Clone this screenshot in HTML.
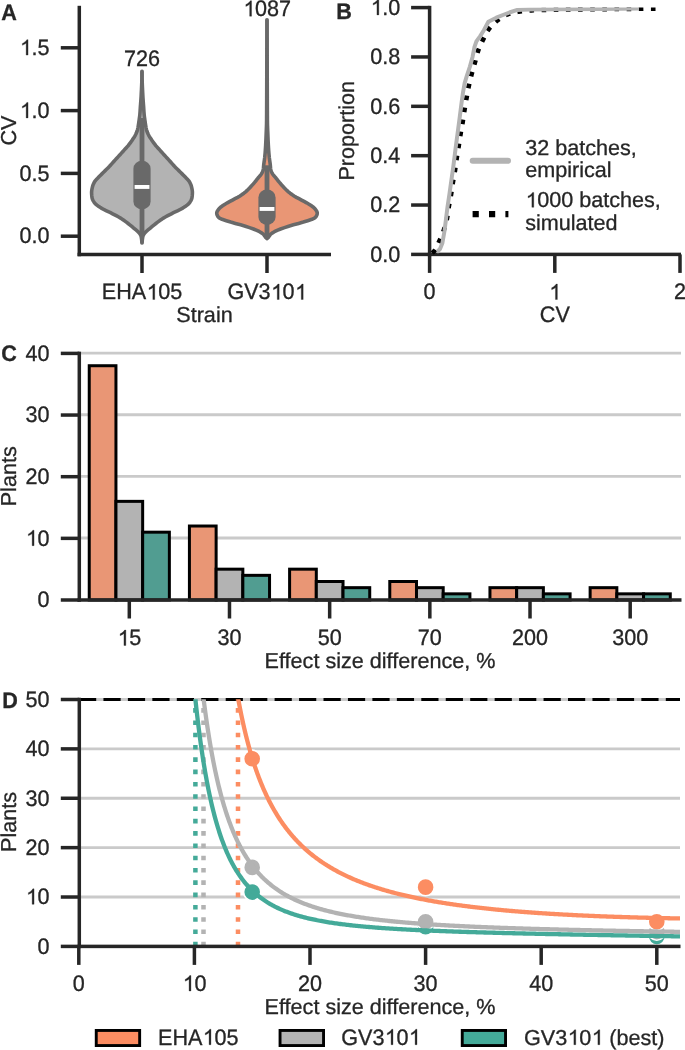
<!DOCTYPE html>
<html><head><meta charset="utf-8"><style>
html,body{margin:0;padding:0;background:#fff;}
svg{display:block;font-family:"Liberation Sans", sans-serif;will-change:transform;text-rendering:geometricPrecision;}
text{stroke:#262626;stroke-width:0.3px;}
</style></head><body>
<svg width="685" height="1050" viewBox="0 0 685 1050">
<rect width="685" height="1050" fill="#fff"/>
<rect x="77.55" y="5.8" width="3.5" height="250.45" fill="#262626"/>
<rect x="77.55" y="252.75" width="253.45" height="3.5" fill="#262626"/>
<line x1="60.8" y1="236.2" x2="79.3" y2="236.2" stroke="#262626" stroke-width="3.5" />
<g transform="matrix(1,0,0,1.04,0,-9.74)"><text x="49.5" y="243.5" text-anchor="end" font-weight="normal" font-size="21.6" fill="#262626">0.0</text></g>
<line x1="60.8" y1="173.4" x2="79.3" y2="173.4" stroke="#262626" stroke-width="3.5" />
<g transform="matrix(1,0,0,1.04,0,-7.23)"><text x="49.5" y="180.7" text-anchor="end" font-weight="normal" font-size="21.6" fill="#262626">0.5</text></g>
<line x1="60.8" y1="110.6" x2="79.3" y2="110.6" stroke="#262626" stroke-width="3.5" />
<g transform="matrix(1,0,0,1.04,0,-4.72)"><text x="49.5" y="117.9" text-anchor="end" font-weight="normal" font-size="21.6" fill="#262626"> .0</text>
<path transform="translate(19.47,117.90) scale(0.010547,-0.010547)" d="M813,0 L633,0 L633,1102 Q568,1043 465,985 Q362,927 273,895 L273,1062 Q424,1130 535,1224 Q646,1319 698,1409 L813,1409 Z" fill="#262626" stroke="#262626" stroke-width="0.3" vector-effect="non-scaling-stroke"/>
</g>
<line x1="60.8" y1="47.8" x2="79.3" y2="47.8" stroke="#262626" stroke-width="3.5" />
<g transform="matrix(1,0,0,1.04,0,-2.2)"><text x="49.5" y="55.1" text-anchor="end" font-weight="normal" font-size="21.6" fill="#262626"> .5</text>
<path transform="translate(19.47,55.10) scale(0.010547,-0.010547)" d="M813,0 L633,0 L633,1102 Q568,1043 465,985 Q362,927 273,895 L273,1062 Q424,1130 535,1224 Q646,1319 698,1409 L813,1409 Z" fill="#262626" stroke="#262626" stroke-width="0.3" vector-effect="non-scaling-stroke"/>
</g>
<line x1="142" y1="254.5" x2="142" y2="273" stroke="#262626" stroke-width="3.5" />
<g transform="matrix(1,0,0,1.04,0,-11.98)"><text x="142" y="299.5" text-anchor="middle" font-weight="normal" font-size="21.6" fill="#262626">EHA 05</text>
<path transform="translate(146.17,299.50) scale(0.010547,-0.010547)" d="M813,0 L633,0 L633,1102 Q568,1043 465,985 Q362,927 273,895 L273,1062 Q424,1130 535,1224 Q646,1319 698,1409 L813,1409 Z" fill="#262626" stroke="#262626" stroke-width="0.3" vector-effect="non-scaling-stroke"/>
</g>
<line x1="267" y1="254.5" x2="267" y2="273" stroke="#262626" stroke-width="3.5" />
<g transform="matrix(1,0,0,1.04,0,-11.98)"><text x="267" y="299.5" text-anchor="middle" font-weight="normal" font-size="21.6" fill="#262626">GV3 0 </text>
<path transform="translate(270.58,299.50) scale(0.010547,-0.010547)" d="M813,0 L633,0 L633,1102 Q568,1043 465,985 Q362,927 273,895 L273,1062 Q424,1130 535,1224 Q646,1319 698,1409 L813,1409 Z" fill="#262626" stroke="#262626" stroke-width="0.3" vector-effect="non-scaling-stroke"/>
<path transform="translate(294.59,299.50) scale(0.010547,-0.010547)" d="M813,0 L633,0 L633,1102 Q568,1043 465,985 Q362,927 273,895 L273,1062 Q424,1130 535,1224 Q646,1319 698,1409 L813,1409 Z" fill="#262626" stroke="#262626" stroke-width="0.3" vector-effect="non-scaling-stroke"/>
</g>
<text x="204.5" y="322" text-anchor="middle" font-weight="normal" font-size="21.6" fill="#262626">Strain</text>
<text x="0" y="0" transform="translate(16,130.6) rotate(-90)" text-anchor="middle" font-weight="normal" font-size="21.6" fill="#262626">CV</text>
<g transform="matrix(1,0,0,1.04,0,-0.79)"><text x="1.3" y="19.7" text-anchor="start" font-weight="bold" font-size="21.6" fill="#262626">A</text></g>
<g transform="matrix(1,0,0,1.04,0,-2.65)"><text x="142" y="66.2" text-anchor="middle" font-weight="normal" font-size="21.6" fill="#262626">726</text></g>
<g transform="matrix(1,0,0,1.04,0,-0.65)"><text x="267" y="16.2" text-anchor="middle" font-weight="normal" font-size="21.6" fill="#262626"> 087</text>
<path transform="translate(242.98,16.20) scale(0.010547,-0.010547)" d="M813,0 L633,0 L633,1102 Q568,1043 465,985 Q362,927 273,895 L273,1062 Q424,1130 535,1224 Q646,1319 698,1409 L813,1409 Z" fill="#262626" stroke="#262626" stroke-width="0.3" vector-effect="non-scaling-stroke"/>
</g>
<path d="M141.85,71.4 L141.85,72.48 L141.85,73.56 L141.85,74.64 L141.85,75.71 L141.85,76.79 L141.85,77.87 L141.84,78.95 L141.83,80.03 L141.81,81.11 L141.78,82.19 L141.75,83.26 L141.71,84.34 L141.67,85.42 L141.62,86.5 L141.57,87.58 L141.52,88.66 L141.47,89.74 L141.41,90.82 L141.36,91.89 L141.3,92.97 L141.25,94.05 L141.19,95.13 L141.14,96.21 L141.07,97.29 L141,98.37 L140.93,99.44 L140.85,100.52 L140.77,101.6 L140.69,102.68 L140.61,103.76 L140.53,104.84 L140.45,105.92 L140.37,106.99 L140.3,108.07 L140.23,109.15 L140.16,110.23 L140.1,111.31 L140.02,112.39 L139.94,113.47 L139.85,114.54 L139.74,115.62 L139.61,116.7 L139.46,117.78 L139.31,118.86 L139.16,119.94 L139,121.02 L138.84,122.09 L138.69,123.17 L138.53,124.25 L138.37,125.33 L138.19,126.41 L138,127.49 L137.78,128.57 L137.54,129.65 L137.24,130.72 L136.86,131.8 L136.41,132.88 L135.91,133.96 L135.38,135.04 L134.8,136.12 L134.14,137.2 L133.44,138.27 L132.74,139.35 L132.01,140.43 L131.26,141.51 L130.49,142.59 L129.69,143.67 L128.86,144.75 L127.99,145.82 L127.06,146.9 L126.1,147.98 L125.11,149.06 L124.12,150.14 L123.16,151.22 L122.19,152.3 L121.21,153.37 L120.24,154.45 L119.25,155.53 L118.26,156.61 L117.26,157.69 L116.26,158.77 L115.26,159.85 L114.28,160.93 L113.32,162 L112.38,163.08 L111.44,164.16 L110.48,165.24 L109.49,166.32 L108.45,167.4 L107.37,168.48 L106.27,169.55 L105.17,170.63 L104.09,171.71 L102.99,172.79 L101.89,173.87 L100.81,174.95 L99.75,176.03 L98.72,177.1 L97.64,178.18 L96.58,179.26 L95.61,180.34 L94.79,181.42 L94.18,182.5 L93.64,183.58 L93.17,184.65 L92.78,185.73 L92.47,186.81 L92.23,187.89 L92,188.97 L91.81,190.05 L91.67,191.13 L91.6,192.21 L91.61,193.28 L91.67,194.36 L91.75,195.44 L91.87,196.52 L92,197.6 L92.24,198.68 L92.67,199.76 L93.23,200.83 L93.9,201.91 L94.64,202.99 L95.63,204.07 L96.92,205.15 L98.43,206.23 L100.06,207.31 L101.76,208.38 L103.73,209.46 L105.94,210.54 L108.25,211.62 L110.51,212.7 L112.61,213.78 L114.69,214.86 L116.73,215.93 L118.7,217.01 L120.55,218.09 L122.23,219.17 L123.8,220.25 L125.28,221.33 L126.7,222.41 L128.09,223.48 L129.47,224.56 L130.8,225.64 L132.1,226.72 L133.38,227.8 L134.66,228.88 L135.99,229.96 L137.32,231.04 L138.41,232.11 L139.31,233.19 L140.13,234.27 L140.77,235.35 L141.13,236.43 L141.33,237.51 L141.51,238.59 L141.65,239.66 L141.76,240.74 L141.83,241.82 L141.85,242.9 L142.15,242.9 L142.17,241.82 L142.24,240.74 L142.35,239.66 L142.49,238.59 L142.67,237.51 L142.87,236.43 L143.23,235.35 L143.87,234.27 L144.69,233.19 L145.59,232.11 L146.68,231.04 L148.01,229.96 L149.34,228.88 L150.62,227.8 L151.9,226.72 L153.2,225.64 L154.53,224.56 L155.91,223.48 L157.3,222.41 L158.72,221.33 L160.2,220.25 L161.77,219.17 L163.45,218.09 L165.3,217.01 L167.27,215.93 L169.31,214.86 L171.39,213.78 L173.49,212.7 L175.75,211.62 L178.06,210.54 L180.27,209.46 L182.24,208.38 L183.94,207.31 L185.57,206.23 L187.08,205.15 L188.37,204.07 L189.36,202.99 L190.1,201.91 L190.77,200.83 L191.33,199.76 L191.76,198.68 L192,197.6 L192.13,196.52 L192.25,195.44 L192.33,194.36 L192.39,193.28 L192.4,192.21 L192.33,191.13 L192.19,190.05 L192,188.97 L191.77,187.89 L191.53,186.81 L191.22,185.73 L190.83,184.65 L190.36,183.58 L189.82,182.5 L189.21,181.42 L188.39,180.34 L187.42,179.26 L186.36,178.18 L185.28,177.1 L184.25,176.03 L183.19,174.95 L182.11,173.87 L181.01,172.79 L179.91,171.71 L178.83,170.63 L177.73,169.55 L176.63,168.48 L175.55,167.4 L174.51,166.32 L173.52,165.24 L172.56,164.16 L171.62,163.08 L170.68,162 L169.72,160.93 L168.74,159.85 L167.74,158.77 L166.74,157.69 L165.74,156.61 L164.75,155.53 L163.76,154.45 L162.79,153.37 L161.81,152.3 L160.84,151.22 L159.88,150.14 L158.89,149.06 L157.9,147.98 L156.94,146.9 L156.01,145.82 L155.14,144.75 L154.31,143.67 L153.51,142.59 L152.74,141.51 L151.99,140.43 L151.26,139.35 L150.56,138.27 L149.86,137.2 L149.2,136.12 L148.62,135.04 L148.09,133.96 L147.59,132.88 L147.14,131.8 L146.76,130.72 L146.46,129.65 L146.22,128.57 L146,127.49 L145.81,126.41 L145.63,125.33 L145.47,124.25 L145.31,123.17 L145.16,122.09 L145,121.02 L144.84,119.94 L144.69,118.86 L144.54,117.78 L144.39,116.7 L144.26,115.62 L144.15,114.54 L144.06,113.47 L143.98,112.39 L143.9,111.31 L143.84,110.23 L143.77,109.15 L143.7,108.07 L143.63,106.99 L143.55,105.92 L143.47,104.84 L143.39,103.76 L143.31,102.68 L143.23,101.6 L143.15,100.52 L143.07,99.44 L143,98.37 L142.93,97.29 L142.86,96.21 L142.81,95.13 L142.75,94.05 L142.7,92.97 L142.64,91.89 L142.59,90.82 L142.53,89.74 L142.48,88.66 L142.43,87.58 L142.38,86.5 L142.33,85.42 L142.29,84.34 L142.25,83.26 L142.22,82.19 L142.19,81.11 L142.17,80.03 L142.16,78.95 L142.15,77.87 L142.15,76.79 L142.15,75.71 L142.15,74.64 L142.15,73.56 L142.15,72.48 L142.15,71.4 Z" fill="#b3b3b3" stroke="#696969" stroke-width="3.6" stroke-linejoin="round"/>
<line x1="142" y1="118" x2="142" y2="236" stroke="#696969" stroke-width="4.8" />
<rect x="133.4" y="160.7" width="17.2" height="48.70000000000002" rx="8.6" ry="8" fill="#696969"/>
<rect x="134.6" y="185" width="14.8" height="3.9" fill="#ffffff"/>
<path d="M266.85,19.8 L266.85,21.18 L266.85,22.55 L266.85,23.93 L266.85,25.3 L266.85,26.68 L266.85,28.06 L266.85,29.43 L266.85,30.81 L266.85,32.18 L266.85,33.56 L266.85,34.94 L266.85,36.31 L266.84,37.69 L266.84,39.07 L266.84,40.44 L266.84,41.82 L266.84,43.19 L266.84,44.57 L266.84,45.95 L266.84,47.32 L266.83,48.7 L266.83,50.07 L266.83,51.45 L266.83,52.83 L266.83,54.2 L266.83,55.58 L266.82,56.95 L266.82,58.33 L266.82,59.71 L266.82,61.08 L266.81,62.46 L266.81,63.84 L266.81,65.21 L266.81,66.59 L266.8,67.96 L266.8,69.34 L266.8,70.72 L266.79,72.09 L266.79,73.47 L266.79,74.84 L266.78,76.22 L266.78,77.6 L266.77,78.97 L266.77,80.35 L266.77,81.72 L266.76,83.1 L266.76,84.48 L266.75,85.85 L266.75,87.23 L266.74,88.61 L266.74,89.98 L266.73,91.36 L266.73,92.73 L266.72,94.11 L266.72,95.49 L266.71,96.86 L266.71,98.24 L266.7,99.61 L266.7,100.99 L266.69,102.37 L266.68,103.74 L266.68,105.12 L266.67,106.49 L266.66,107.87 L266.66,109.25 L266.65,110.62 L266.64,112 L266.64,113.37 L266.63,114.75 L266.62,116.13 L266.61,117.5 L266.61,118.88 L266.6,120.26 L266.58,121.63 L266.56,123.01 L266.53,124.38 L266.49,125.76 L266.44,127.14 L266.39,128.51 L266.34,129.89 L266.28,131.26 L266.22,132.64 L266.17,134.02 L266.11,135.39 L266.06,136.77 L266,138.14 L265.94,139.52 L265.88,140.9 L265.81,142.27 L265.74,143.65 L265.67,145.03 L265.59,146.4 L265.5,147.78 L265.41,149.15 L265.32,150.53 L265.22,151.91 L265.11,153.28 L264.99,154.66 L264.86,156.03 L264.73,157.41 L264.55,158.79 L264.36,160.16 L264.16,161.54 L263.96,162.91 L263.78,164.29 L263.64,165.67 L263.53,167.04 L263.42,168.42 L263.23,169.79 L262.8,171.17 L262.17,172.55 L261.43,173.92 L260.45,175.3 L259.24,176.68 L258.04,178.05 L256.95,179.43 L255.87,180.8 L254.77,182.18 L253.6,183.56 L252.4,184.93 L251.15,186.31 L249.86,187.68 L248.55,189.06 L247.15,190.44 L245.6,191.81 L243.9,193.19 L242.03,194.56 L239.97,195.94 L237.59,197.32 L235.02,198.69 L232.48,200.07 L229.91,201.45 L227.35,202.82 L225.01,204.2 L222.92,205.57 L220.96,206.95 L219.4,208.33 L218.33,209.7 L217.39,211.08 L216.8,212.45 L216.75,213.83 L217.18,215.21 L217.95,216.58 L219.1,217.96 L222.06,219.33 L226.31,220.71 L230.67,222.09 L235.43,223.46 L240.58,224.84 L245.34,226.22 L249.53,227.59 L253.47,228.97 L256.85,230.34 L259.59,231.72 L261.91,233.1 L263.56,234.47 L264.59,235.85 L265.5,237.22 L266.85,238.6 L267.15,238.6 L268.5,237.22 L269.41,235.85 L270.44,234.47 L272.09,233.1 L274.41,231.72 L277.15,230.34 L280.53,228.97 L284.47,227.59 L288.66,226.22 L293.42,224.84 L298.57,223.46 L303.33,222.09 L307.69,220.71 L311.94,219.33 L314.9,217.96 L316.05,216.58 L316.82,215.21 L317.25,213.83 L317.2,212.45 L316.61,211.08 L315.67,209.7 L314.6,208.33 L313.04,206.95 L311.08,205.57 L308.99,204.2 L306.65,202.82 L304.09,201.45 L301.52,200.07 L298.98,198.69 L296.41,197.32 L294.03,195.94 L291.97,194.56 L290.1,193.19 L288.4,191.81 L286.85,190.44 L285.45,189.06 L284.14,187.68 L282.85,186.31 L281.6,184.93 L280.4,183.56 L279.23,182.18 L278.13,180.8 L277.05,179.43 L275.96,178.05 L274.76,176.68 L273.55,175.3 L272.57,173.92 L271.83,172.55 L271.2,171.17 L270.77,169.79 L270.58,168.42 L270.47,167.04 L270.36,165.67 L270.22,164.29 L270.04,162.91 L269.84,161.54 L269.64,160.16 L269.45,158.79 L269.27,157.41 L269.14,156.03 L269.01,154.66 L268.89,153.28 L268.78,151.91 L268.68,150.53 L268.59,149.15 L268.5,147.78 L268.41,146.4 L268.33,145.03 L268.26,143.65 L268.19,142.27 L268.12,140.9 L268.06,139.52 L268,138.14 L267.94,136.77 L267.89,135.39 L267.83,134.02 L267.78,132.64 L267.72,131.26 L267.66,129.89 L267.61,128.51 L267.56,127.14 L267.51,125.76 L267.47,124.38 L267.44,123.01 L267.42,121.63 L267.4,120.26 L267.39,118.88 L267.39,117.5 L267.38,116.13 L267.37,114.75 L267.36,113.37 L267.36,112 L267.35,110.62 L267.34,109.25 L267.34,107.87 L267.33,106.49 L267.32,105.12 L267.32,103.74 L267.31,102.37 L267.3,100.99 L267.3,99.61 L267.29,98.24 L267.29,96.86 L267.28,95.49 L267.28,94.11 L267.27,92.73 L267.27,91.36 L267.26,89.98 L267.26,88.61 L267.25,87.23 L267.25,85.85 L267.24,84.48 L267.24,83.1 L267.23,81.72 L267.23,80.35 L267.23,78.97 L267.22,77.6 L267.22,76.22 L267.21,74.84 L267.21,73.47 L267.21,72.09 L267.2,70.72 L267.2,69.34 L267.2,67.96 L267.19,66.59 L267.19,65.21 L267.19,63.84 L267.19,62.46 L267.18,61.08 L267.18,59.71 L267.18,58.33 L267.18,56.95 L267.17,55.58 L267.17,54.2 L267.17,52.83 L267.17,51.45 L267.17,50.07 L267.17,48.7 L267.16,47.32 L267.16,45.95 L267.16,44.57 L267.16,43.19 L267.16,41.82 L267.16,40.44 L267.16,39.07 L267.16,37.69 L267.15,36.31 L267.15,34.94 L267.15,33.56 L267.15,32.18 L267.15,30.81 L267.15,29.43 L267.15,28.06 L267.15,26.68 L267.15,25.3 L267.15,23.93 L267.15,22.55 L267.15,21.18 L267.15,19.8 Z" fill="#e99675" stroke="#696969" stroke-width="3.6" stroke-linejoin="round"/>
<line x1="267" y1="165.3" x2="267" y2="236" stroke="#696969" stroke-width="4.8" />
<rect x="258.4" y="189.4" width="17.2" height="35.5" rx="8.6" ry="8" fill="#696969"/>
<rect x="259.6" y="207" width="14.8" height="3.9" fill="#ffffff"/>
<rect x="427.85" y="5.85" width="3.5" height="250.29999999999998" fill="#262626"/>
<rect x="427.85" y="252.65" width="253.14999999999998" height="3.5" fill="#262626"/>
<line x1="411.1" y1="254.4" x2="429.6" y2="254.4" stroke="#262626" stroke-width="3.5" />
<g transform="matrix(1,0,0,1.04,0,-10.47)"><text x="400.3" y="261.7" text-anchor="end" font-weight="normal" font-size="21.6" fill="#262626">0.0</text></g>
<line x1="411.1" y1="205.04" x2="429.6" y2="205.04" stroke="#262626" stroke-width="3.5" />
<g transform="matrix(1,0,0,1.04,0,-8.49)"><text x="400.3" y="212.34" text-anchor="end" font-weight="normal" font-size="21.6" fill="#262626">0.2</text></g>
<line x1="411.1" y1="155.68" x2="429.6" y2="155.68" stroke="#262626" stroke-width="3.5" />
<g transform="matrix(1,0,0,1.04,0,-6.52)"><text x="400.3" y="162.98" text-anchor="end" font-weight="normal" font-size="21.6" fill="#262626">0.4</text></g>
<line x1="411.1" y1="106.32" x2="429.6" y2="106.32" stroke="#262626" stroke-width="3.5" />
<g transform="matrix(1,0,0,1.04,0,-4.54)"><text x="400.3" y="113.62" text-anchor="end" font-weight="normal" font-size="21.6" fill="#262626">0.6</text></g>
<line x1="411.1" y1="56.96" x2="429.6" y2="56.96" stroke="#262626" stroke-width="3.5" />
<g transform="matrix(1,0,0,1.04,0,-2.57)"><text x="400.3" y="64.26" text-anchor="end" font-weight="normal" font-size="21.6" fill="#262626">0.8</text></g>
<line x1="411.1" y1="7.6" x2="429.6" y2="7.6" stroke="#262626" stroke-width="3.5" />
<g transform="matrix(1,0,0,1.04,0,-0.6)"><text x="400.3" y="14.9" text-anchor="end" font-weight="normal" font-size="21.6" fill="#262626"> .0</text>
<path transform="translate(370.27,14.90) scale(0.010547,-0.010547)" d="M813,0 L633,0 L633,1102 Q568,1043 465,985 Q362,927 273,895 L273,1062 Q424,1130 535,1224 Q646,1319 698,1409 L813,1409 Z" fill="#262626" stroke="#262626" stroke-width="0.3" vector-effect="non-scaling-stroke"/>
</g>
<line x1="429.6" y1="254.4" x2="429.6" y2="272.9" stroke="#262626" stroke-width="3.5" />
<g transform="matrix(1,0,0,1.04,0,-11.98)"><text x="429.6" y="299.5" text-anchor="middle" font-weight="normal" font-size="21.6" fill="#262626">0</text></g>
<line x1="554.8" y1="254.4" x2="554.8" y2="272.9" stroke="#262626" stroke-width="3.5" />
<g transform="matrix(1,0,0,1.04,0,-11.98)"><text x="554.8" y="299.5" text-anchor="middle" font-weight="normal" font-size="21.6" fill="#262626"> </text>
<path transform="translate(548.79,299.50) scale(0.010547,-0.010547)" d="M813,0 L633,0 L633,1102 Q568,1043 465,985 Q362,927 273,895 L273,1062 Q424,1130 535,1224 Q646,1319 698,1409 L813,1409 Z" fill="#262626" stroke="#262626" stroke-width="0.3" vector-effect="non-scaling-stroke"/>
</g>
<line x1="680" y1="254.4" x2="680" y2="272.9" stroke="#262626" stroke-width="3.5" />
<g transform="matrix(1,0,0,1.04,0,-11.98)"><text x="680" y="299.5" text-anchor="middle" font-weight="normal" font-size="21.6" fill="#262626">2</text></g>
<g transform="matrix(1,0,0,1.04,0,-12.86)"><text x="554.8" y="321.5" text-anchor="middle" font-weight="normal" font-size="21.6" fill="#262626">CV</text></g>
<text x="0" y="0" transform="translate(353.9,130.8) rotate(-90)" text-anchor="middle" font-weight="normal" font-size="21.6" fill="#262626">Proportion</text>
<g transform="matrix(1,0,0,1.04,0,-0.77)"><text x="336.2" y="19.2" text-anchor="start" font-weight="bold" font-size="21.6" fill="#262626">B</text></g>
<defs><clipPath id="clipB"><rect x="429.4" y="7.6" width="252" height="246.8"/></clipPath></defs>
<path d="M429.4,254.4 L429.97,254.32 L430.54,254.14 L431.1,253.85 L431.67,253.48 L432.24,253.04 L432.81,252.55 L433.38,252.01 L433.94,251.46 L434.51,250.87 L435.08,250.12 L435.65,249.19 L436.22,248.11 L436.78,246.93 L437.35,245.66 L437.92,244.35 L438.49,243.04 L439.05,241.74 L439.62,240.49 L440.19,239.24 L440.76,237.96 L441.33,236.64 L441.89,235.27 L442.46,233.84 L443.03,232.32 L443.6,230.72 L444.17,229.06 L444.73,227.34 L445.3,225.49 L445.87,223.47 L446.44,221.22 L447.01,218.67 L447.57,215.29 L448.14,211.19 L448.71,207.25 L449.28,204.03 L449.85,201.12 L450.41,198.24 L450.98,195.11 L451.55,191.5 L452.12,187.59 L452.68,183.76 L453.25,180.33 L453.82,177.21 L454.39,174.12 L454.96,170.78 L455.52,166.88 L456.09,162.63 L456.66,158.56 L457.23,154.98 L457.8,151.61 L458.36,148.26 L458.93,144.72 L459.5,140.96 L460.07,137.18 L460.64,133.58 L461.2,130.31 L461.77,127.19 L462.34,124.02 L462.91,120.61 L463.48,116.9 L464.04,113.09 L464.61,109.43 L465.18,105.99 L465.75,102.65 L466.31,99.4 L466.88,96.22 L467.45,93.07 L468.02,90.01 L468.59,87.11 L469.15,84.43 L469.72,81.92 L470.29,79.54 L470.86,77.26 L471.43,75.05 L471.99,72.89 L472.56,70.83 L473.13,68.83 L473.7,66.87 L474.27,64.92 L474.83,62.95 L475.4,60.9 L475.97,58.73 L476.54,56.52 L477.11,54.36 L477.67,52.34 L478.24,50.57 L478.81,49.02 L479.38,47.59 L479.94,46.26 L480.51,45 L481.08,43.79 L481.65,42.63 L482.22,41.49 L482.78,40.34 L483.35,39.19 L483.92,38.01 L484.49,36.82 L485.06,35.64 L485.62,34.48 L486.19,33.37 L486.76,32.31 L487.33,31.33 L487.9,30.44 L488.46,29.64 L489.03,28.88 L489.6,28.15 L490.17,27.45 L490.74,26.77 L491.3,26.12 L491.87,25.49 L492.44,24.89 L493.01,24.3 L493.57,23.74 L494.14,23.2 L494.71,22.68 L495.28,22.18 L495.85,21.69 L496.41,21.22 L496.98,20.77 L497.55,20.34 L498.12,19.91 L498.69,19.49 L499.25,19.08 L499.82,18.68 L500.39,18.28 L500.96,17.89 L501.53,17.51 L502.09,17.15 L502.66,16.79 L503.23,16.45 L503.8,16.12 L504.37,15.8 L504.93,15.51 L505.5,15.22 L506.07,14.96 L506.64,14.71 L507.21,14.48 L507.77,14.28 L508.34,14.09 L508.91,13.91 L509.48,13.73 L510.04,13.56 L510.61,13.4 L511.18,13.24 L511.75,13.09 L512.32,12.95 L512.88,12.81 L513.45,12.68 L514.02,12.55 L514.59,12.43 L515.16,12.31 L515.72,12.2 L516.29,12.09 L516.86,11.99 L517.43,11.89 L518,11.8 L518.56,11.71 L519.13,11.62 L519.7,11.54 L520.27,11.46 L520.84,11.39 L521.4,11.31 L521.97,11.24 L522.54,11.17 L523.11,11.1 L523.67,11.03 L524.24,10.96 L524.81,10.9 L525.38,10.84 L525.95,10.78 L526.51,10.73 L527.08,10.67 L527.65,10.62 L528.22,10.58 L528.79,10.54 L529.35,10.5 L529.92,10.46 L530.49,10.43 L531.06,10.4 L531.63,10.37 L532.19,10.34 L532.76,10.32 L533.33,10.3 L533.9,10.27 L534.47,10.25 L535.03,10.23 L535.6,10.21 L536.17,10.2 L536.74,10.18 L537.3,10.16 L537.87,10.15 L538.44,10.13 L539.01,10.11 L539.58,10.1 L540.14,10.08 L540.71,10.07 L541.28,10.06 L541.85,10.04 L542.42,10.03 L542.98,10.02 L543.55,10 L544.12,9.99 L544.69,9.97 L545.26,9.96 L545.82,9.95 L546.39,9.93 L546.96,9.92 L547.53,9.91 L548.1,9.89 L548.66,9.88 L549.23,9.87 L549.8,9.86 L550.37,9.84 L550.93,9.83 L551.5,9.82 L552.07,9.81 L552.64,9.8 L553.21,9.78 L553.77,9.77 L554.34,9.76 L554.91,9.75 L555.48,9.74 L556.05,9.73 L556.61,9.72 L557.18,9.71 L557.75,9.69 L558.32,9.68 L558.89,9.67 L559.45,9.66 L560.02,9.65 L560.59,9.64 L561.16,9.63 L561.73,9.62 L562.29,9.61 L562.86,9.61 L563.43,9.6 L564,9.59 L564.56,9.58 L565.13,9.57 L565.7,9.56 L566.27,9.55 L566.84,9.54 L567.4,9.54 L567.97,9.53 L568.54,9.52 L569.11,9.51 L569.68,9.5 L570.24,9.5 L570.81,9.49 L571.38,9.48 L571.95,9.48 L572.52,9.47 L573.08,9.46 L573.65,9.45 L574.22,9.45 L574.79,9.44 L575.36,9.43 L575.92,9.43 L576.49,9.42 L577.06,9.42 L577.63,9.41 L578.19,9.4 L578.76,9.4 L579.33,9.39 L579.9,9.39 L580.47,9.38 L581.03,9.38 L581.6,9.37 L582.17,9.36 L582.74,9.36 L583.31,9.35 L583.87,9.35 L584.44,9.34 L585.01,9.34 L585.58,9.33 L586.15,9.33 L586.71,9.32 L587.28,9.32 L587.85,9.31 L588.42,9.31 L588.99,9.3 L589.55,9.3 L590.12,9.29 L590.69,9.29 L591.26,9.28 L591.83,9.28 L592.39,9.27 L592.96,9.27 L593.53,9.26 L594.1,9.26 L594.66,9.25 L595.23,9.25 L595.8,9.24 L596.37,9.23 L596.94,9.23 L597.5,9.22 L598.07,9.22 L598.64,9.21 L599.21,9.21 L599.78,9.2 L600.34,9.2 L600.91,9.19 L601.48,9.19 L602.05,9.18 L602.62,9.17 L603.18,9.17 L603.75,9.16 L604.32,9.16 L604.89,9.15 L605.46,9.15 L606.02,9.14 L606.59,9.13 L607.16,9.13 L607.73,9.12 L608.29,9.12 L608.86,9.11 L609.43,9.11 L610,9.1 L610.57,9.09 L611.13,9.09 L611.7,9.08 L612.27,9.08 L612.84,9.07 L613.41,9.06 L613.97,9.06 L614.54,9.05 L615.11,9.05 L615.68,9.04 L616.25,9.04 L616.81,9.03 L617.38,9.02 L617.95,9.02 L618.52,9.01 L619.09,9.01 L619.65,9 L620.22,8.99 L620.79,8.99 L621.36,8.98 L621.92,8.98 L622.49,8.97 L623.06,8.97 L623.63,8.96 L624.2,8.96 L624.76,8.95 L625.33,8.94 L625.9,8.94 L626.47,8.93 L627.04,8.93 L627.6,8.92 L628.17,8.92 L628.74,8.91 L629.31,8.91 L629.88,8.9 L630.44,8.9 L631.01,8.89 L631.58,8.88 L632.15,8.88 L632.72,8.87 L633.28,8.87 L633.85,8.86 L634.42,8.86 L634.99,8.85 L635.55,8.85 L636.12,8.84 L636.69,8.84 L637.26,8.83 L637.83,8.83 L638.39,8.83 L638.96,8.82 L639.53,8.82 L640.1,8.81 L640.67,8.81 L641.23,8.8 L641.8,8.8 L642.37,8.79 L642.94,8.79 L643.51,8.78 L644.07,8.78 L644.64,8.78 L645.21,8.77 L645.78,8.77 L646.35,8.76 L646.91,8.76 L647.48,8.76 L648.05,8.75 L648.62,8.75 L649.18,8.74 L649.75,8.74 L650.32,8.74 L650.89,8.73 L651.46,8.73 L652.02,8.73 L652.59,8.72 L653.16,8.72 L653.73,8.71 L654.3,8.71 L654.86,8.71 L655.43,8.7 L656,8.7" fill="none" stroke="#000" stroke-width="4.6" stroke-dasharray="4.6 7.55" stroke-dashoffset="-3.1" clip-path="url(#clipB)"/>
<path d="M436.8,251.8 L437.6,251.4 L440,249 L442.4,243 L444.5,231 L446,219 L447.5,207 L449.3,195 L450.6,185.7 L453.3,166.7 L455.7,147.6 L457.6,133.3 L459.5,119 L461.6,102.4 L463,92.5 L464.6,83.3 L466.9,75.7 L469.9,66.6 L472.6,56.7 L474.5,46.8 L476.4,41.4 L480.2,36.1 L484,30 L488.4,21.7 L496.3,17.7 L504.2,14.5 L509.4,12.5 L517.3,9.9 L529.1,9.5 L560,9.2 L600,8.9 L639,8.6" fill="none" stroke="#b3b3b3" stroke-width="4" stroke-linejoin="round" stroke-linecap="butt" clip-path="url(#clipB)"/>
<line x1="472.7" y1="160.7" x2="508" y2="160.7" stroke="#b3b3b3" stroke-width="6" stroke-linecap="round"/>
<line x1="472.6" y1="214.1" x2="508.4" y2="214.1" stroke="#000" stroke-width="6.2" stroke-dasharray="6.2 10.2"/>
<text x="525.2" y="154.5" text-anchor="start" font-weight="normal" font-size="21.6" fill="#262626">32 batches,</text>
<text x="525.2" y="177" text-anchor="start" font-weight="normal" font-size="21.6" fill="#262626">empirical</text>
<text x="525.2" y="207.3" text-anchor="start" font-weight="normal" font-size="21.6" fill="#262626"> 000 batches,</text>
<path transform="translate(525.20,207.30) scale(0.010547,-0.010547)" d="M813,0 L633,0 L633,1102 Q568,1043 465,985 Q362,927 273,895 L273,1062 Q424,1130 535,1224 Q646,1319 698,1409 L813,1409 Z" fill="#262626" stroke="#262626" stroke-width="0.3" vector-effect="non-scaling-stroke"/>
<text x="525.2" y="230.1" text-anchor="start" font-weight="normal" font-size="21.6" fill="#262626">simulated</text>
<line x1="81.05" y1="538.05" x2="681" y2="538.05" stroke="#cacaca" stroke-width="2.9" />
<line x1="81.05" y1="476.4" x2="681" y2="476.4" stroke="#cacaca" stroke-width="2.9" />
<line x1="81.05" y1="414.75" x2="681" y2="414.75" stroke="#cacaca" stroke-width="2.9" />
<line x1="81.05" y1="353.1" x2="681" y2="353.1" stroke="#cacaca" stroke-width="2.9" />
<rect x="89.24" y="365.73" width="26.71" height="234.27" fill="#e99675" stroke="#000" stroke-width="3"/>
<rect x="115.95" y="501.36" width="26.71" height="98.64" fill="#b3b3b3" stroke="#000" stroke-width="3"/>
<rect x="142.66" y="532.18" width="26.71" height="67.81" fill="#519d91" stroke="#000" stroke-width="3"/>
<rect x="189.42" y="526.02" width="26.71" height="73.98" fill="#e99675" stroke="#000" stroke-width="3"/>
<rect x="216.13" y="569.17" width="26.71" height="30.82" fill="#b3b3b3" stroke="#000" stroke-width="3"/>
<rect x="242.84" y="575.34" width="26.71" height="24.66" fill="#519d91" stroke="#000" stroke-width="3"/>
<rect x="289.6" y="569.17" width="26.71" height="30.82" fill="#e99675" stroke="#000" stroke-width="3"/>
<rect x="316.31" y="581.5" width="26.71" height="18.5" fill="#b3b3b3" stroke="#000" stroke-width="3"/>
<rect x="343.02" y="587.67" width="26.71" height="12.33" fill="#519d91" stroke="#000" stroke-width="3"/>
<rect x="389.78" y="581.5" width="26.71" height="18.5" fill="#e99675" stroke="#000" stroke-width="3"/>
<rect x="416.49" y="587.67" width="26.71" height="12.33" fill="#b3b3b3" stroke="#000" stroke-width="3"/>
<rect x="443.2" y="593.84" width="26.71" height="6.17" fill="#519d91" stroke="#000" stroke-width="3"/>
<rect x="489.95" y="587.67" width="26.71" height="12.33" fill="#e99675" stroke="#000" stroke-width="3"/>
<rect x="516.66" y="587.67" width="26.71" height="12.33" fill="#b3b3b3" stroke="#000" stroke-width="3"/>
<rect x="543.38" y="593.84" width="26.71" height="6.17" fill="#519d91" stroke="#000" stroke-width="3"/>
<rect x="590.13" y="587.67" width="26.71" height="12.33" fill="#e99675" stroke="#000" stroke-width="3"/>
<rect x="616.85" y="593.84" width="26.71" height="6.17" fill="#b3b3b3" stroke="#000" stroke-width="3"/>
<rect x="643.56" y="593.84" width="26.71" height="6.17" fill="#519d91" stroke="#000" stroke-width="3"/>
<rect x="77.55" y="351.65" width="3.5" height="250.1" fill="#262626"/>
<rect x="77.55" y="598.25" width="603.95" height="3.5" fill="#262626"/>
<line x1="60.8" y1="600" x2="79.3" y2="600" stroke="#262626" stroke-width="3.5" />
<g transform="matrix(1,0,0,1.04,0,-24.29)"><text x="49.5" y="607.3" text-anchor="end" font-weight="normal" font-size="21.6" fill="#262626">0</text></g>
<line x1="60.8" y1="538.35" x2="79.3" y2="538.35" stroke="#262626" stroke-width="3.5" />
<g transform="matrix(1,0,0,1.04,0,-21.83)"><text x="49.5" y="545.65" text-anchor="end" font-weight="normal" font-size="21.6" fill="#262626"> 0</text>
<path transform="translate(25.47,545.65) scale(0.010547,-0.010547)" d="M813,0 L633,0 L633,1102 Q568,1043 465,985 Q362,927 273,895 L273,1062 Q424,1130 535,1224 Q646,1319 698,1409 L813,1409 Z" fill="#262626" stroke="#262626" stroke-width="0.3" vector-effect="non-scaling-stroke"/>
</g>
<line x1="60.8" y1="476.7" x2="79.3" y2="476.7" stroke="#262626" stroke-width="3.5" />
<g transform="matrix(1,0,0,1.04,0,-19.36)"><text x="49.5" y="484" text-anchor="end" font-weight="normal" font-size="21.6" fill="#262626">20</text></g>
<line x1="60.8" y1="415.05" x2="79.3" y2="415.05" stroke="#262626" stroke-width="3.5" />
<g transform="matrix(1,0,0,1.04,0,-16.89)"><text x="49.5" y="422.35" text-anchor="end" font-weight="normal" font-size="21.6" fill="#262626">30</text></g>
<line x1="60.8" y1="353.4" x2="79.3" y2="353.4" stroke="#262626" stroke-width="3.5" />
<g transform="matrix(1,0,0,1.04,0,-14.43)"><text x="49.5" y="360.7" text-anchor="end" font-weight="normal" font-size="21.6" fill="#262626">40</text></g>
<line x1="129.3" y1="600" x2="129.3" y2="618.5" stroke="#262626" stroke-width="3.5" />
<g transform="matrix(1,0,0,1.04,0,-25.82)"><text x="129.3" y="645.5" text-anchor="middle" font-weight="normal" font-size="21.6" fill="#262626"> 5</text>
<path transform="translate(117.28,645.50) scale(0.010547,-0.010547)" d="M813,0 L633,0 L633,1102 Q568,1043 465,985 Q362,927 273,895 L273,1062 Q424,1130 535,1224 Q646,1319 698,1409 L813,1409 Z" fill="#262626" stroke="#262626" stroke-width="0.3" vector-effect="non-scaling-stroke"/>
</g>
<line x1="229.48" y1="600" x2="229.48" y2="618.5" stroke="#262626" stroke-width="3.5" />
<g transform="matrix(1,0,0,1.04,0,-25.82)"><text x="229.48" y="645.5" text-anchor="middle" font-weight="normal" font-size="21.6" fill="#262626">30</text></g>
<line x1="329.66" y1="600" x2="329.66" y2="618.5" stroke="#262626" stroke-width="3.5" />
<g transform="matrix(1,0,0,1.04,0,-25.82)"><text x="329.66" y="645.5" text-anchor="middle" font-weight="normal" font-size="21.6" fill="#262626">50</text></g>
<line x1="429.84" y1="600" x2="429.84" y2="618.5" stroke="#262626" stroke-width="3.5" />
<g transform="matrix(1,0,0,1.04,0,-25.82)"><text x="429.84" y="645.5" text-anchor="middle" font-weight="normal" font-size="21.6" fill="#262626">70</text></g>
<line x1="530.02" y1="600" x2="530.02" y2="618.5" stroke="#262626" stroke-width="3.5" />
<g transform="matrix(1,0,0,1.04,0,-25.82)"><text x="530.02" y="645.5" text-anchor="middle" font-weight="normal" font-size="21.6" fill="#262626">200</text></g>
<line x1="630.2" y1="600" x2="630.2" y2="618.5" stroke="#262626" stroke-width="3.5" />
<g transform="matrix(1,0,0,1.04,0,-25.82)"><text x="630.2" y="645.5" text-anchor="middle" font-weight="normal" font-size="21.6" fill="#262626">300</text></g>
<text x="380" y="667.8" text-anchor="middle" font-weight="normal" font-size="21.6" fill="#262626">Effect size difference, %</text>
<text x="0" y="0" transform="translate(16,476.3) rotate(-90)" text-anchor="middle" font-weight="normal" font-size="21.6" fill="#262626">Plants</text>
<g transform="matrix(1,0,0,1.04,0,-14.44)"><text x="1.2" y="361" text-anchor="start" font-weight="bold" font-size="21.6" fill="#262626">C</text></g>
<line x1="81.05" y1="897.02" x2="680" y2="897.02" stroke="#cacaca" stroke-width="2.9" />
<line x1="81.05" y1="847.64" x2="680" y2="847.64" stroke="#cacaca" stroke-width="2.9" />
<line x1="81.05" y1="798.26" x2="680" y2="798.26" stroke="#cacaca" stroke-width="2.9" />
<line x1="81.05" y1="748.88" x2="680" y2="748.88" stroke="#cacaca" stroke-width="2.9" />
<line x1="81.05" y1="699.5" x2="680" y2="699.5" stroke="#cacaca" stroke-width="2.9" />
<line x1="79" y1="699.5" x2="680" y2="699.5" stroke="#000" stroke-width="3" stroke-dasharray="17.2 7.25"/>
<line x1="195.4" y1="946.4" x2="195.4" y2="699.5" stroke="#44aa99" stroke-width="4.5" stroke-dasharray="4.6 7.7"/>
<line x1="203.5" y1="946.4" x2="203.5" y2="699.5" stroke="#b3b3b3" stroke-width="4.5" stroke-dasharray="4.6 7.7"/>
<line x1="238" y1="946.4" x2="238" y2="699.5" stroke="#fc8d62" stroke-width="4.5" stroke-dasharray="4.6 7.7"/>
<defs><clipPath id="clipD"><rect x="79.3" y="699.5" width="600.7" height="246.9"/></clipPath></defs>
<circle cx="252.2" cy="892.08" r="8.6" fill="#44aa99" stroke="#fff" stroke-width="1.6"/>
<circle cx="425.6" cy="926.65" r="8.6" fill="#44aa99" stroke="#fff" stroke-width="1.6"/>
<circle cx="656.8" cy="936.52" r="8.6" fill="#44aa99" stroke="#fff" stroke-width="1.6"/>
<circle cx="252.2" cy="867.39" r="8.6" fill="#b3b3b3" stroke="#fff" stroke-width="1.6"/>
<circle cx="425.6" cy="921.71" r="8.6" fill="#b3b3b3" stroke="#fff" stroke-width="1.6"/>
<circle cx="656.8" cy="931.59" r="8.6" fill="#b3b3b3" stroke="#fff" stroke-width="1.6"/>
<circle cx="252.2" cy="758.76" r="8.6" fill="#fc8d62" stroke="#fff" stroke-width="1.6"/>
<circle cx="425.6" cy="887.14" r="8.6" fill="#fc8d62" stroke="#fff" stroke-width="1.6"/>
<circle cx="656.8" cy="921.71" r="8.6" fill="#fc8d62" stroke="#fff" stroke-width="1.6"/>
<path d="M194.85,694.1 L194.98,695.4 L195.12,696.71 L195.25,698.01 L195.39,699.31 L195.53,700.62 L195.67,701.92 L195.81,703.22 L195.95,704.53 L196.09,705.83 L196.24,707.13 L196.38,708.44 L196.53,709.74 L196.67,711.04 L196.82,712.34 L196.97,713.65 L197.12,714.95 L197.27,716.25 L197.42,717.55 L197.58,718.85 L197.73,720.15 L197.89,721.46 L198.05,722.76 L198.2,724.06 L198.36,725.36 L198.53,726.66 L198.69,727.96 L198.85,729.26 L199.02,730.56 L199.19,731.86 L199.35,733.16 L199.52,734.46 L199.7,735.76 L199.87,737.06 L200.04,738.36 L200.22,739.66 L200.4,740.96 L200.57,742.25 L200.75,743.55 L200.94,744.85 L201.12,746.15 L201.31,747.45 L201.49,748.74 L201.68,750.04 L201.87,751.34 L202.07,752.63 L202.26,753.93 L202.46,755.23 L202.65,756.52 L202.85,757.82 L203.05,759.11 L203.26,760.41 L203.46,761.7 L203.67,763 L203.88,764.29 L204.09,765.58 L204.31,766.88 L204.52,768.17 L204.74,769.46 L204.96,770.75 L205.19,772.04 L205.41,773.34 L205.64,774.63 L205.87,775.92 L206.1,777.21 L206.34,778.5 L206.58,779.79 L206.82,781.07 L207.06,782.36 L207.3,783.65 L207.55,784.94 L207.8,786.22 L208.06,787.51 L208.31,788.79 L208.57,790.08 L208.84,791.36 L209.1,792.65 L209.37,793.93 L209.64,795.21 L209.92,796.49 L210.2,797.77 L210.48,799.05 L210.77,800.33 L211.06,801.61 L211.35,802.89 L211.64,804.17 L211.94,805.44 L212.25,806.72 L212.56,807.99 L212.87,809.26 L213.18,810.54 L213.5,811.81 L213.83,813.08 L214.16,814.35 L214.49,815.61 L214.83,816.88 L215.17,818.15 L215.52,819.41 L215.87,820.67 L216.23,821.93 L216.59,823.19 L216.95,824.45 L217.33,825.71 L217.7,826.96 L218.09,828.22 L218.48,829.47 L218.87,830.72 L219.27,831.97 L219.68,833.21 L220.09,834.46 L220.51,835.7 L220.94,836.94 L221.37,838.18 L221.81,839.41 L222.25,840.64 L222.71,841.87 L223.17,843.1 L223.63,844.33 L224.11,845.55 L224.59,846.77 L225.08,847.98 L225.58,849.19 L226.09,850.4 L226.6,851.61 L227.13,852.81 L227.66,854 L228.2,855.2 L228.76,856.39 L229.32,857.57 L229.89,858.75 L230.47,859.93 L231.06,861.1 L231.66,862.26 L232.27,863.42 L232.89,864.57 L233.53,865.72 L234.17,866.86 L234.83,868 L235.5,869.13 L236.17,870.25 L236.87,871.36 L237.57,872.47 L238.28,873.57 L239.01,874.66 L239.75,875.74 L240.5,876.81 L241.27,877.87 L242.05,878.93 L242.84,879.97 L243.65,881.01 L244.47,882.03 L245.3,883.04 L246.14,884.04 L247,885.03 L247.87,886.01 L248.76,886.98 L249.66,887.93 L250.57,888.87 L251.5,889.8 L252.44,890.72 L253.39,891.62 L254.35,892.5 L255.33,893.38 L256.32,894.24 L257.32,895.08 L258.34,895.91 L259.37,896.72 L260.4,897.52 L261.45,898.31 L262.52,899.08 L263.59,899.83 L264.67,900.57 L265.76,901.29 L266.86,902 L267.98,902.7 L269.1,903.38 L270.23,904.04 L271.37,904.69 L272.52,905.32 L273.67,905.94 L274.83,906.55 L276,907.14 L277.18,907.71 L278.36,908.28 L279.55,908.83 L280.75,909.36 L281.95,909.88 L283.16,910.39 L284.37,910.89 L285.59,911.38 L286.81,911.85 L288.04,912.31 L289.27,912.76 L290.51,913.2 L291.75,913.62 L292.99,914.04 L294.23,914.45 L295.48,914.84 L296.74,915.23 L297.99,915.6 L299.25,915.97 L300.51,916.33 L301.78,916.67 L303.04,917.01 L304.31,917.34 L305.58,917.67 L306.85,917.98 L308.13,918.29 L309.4,918.59 L310.68,918.88 L311.96,919.17 L313.24,919.45 L314.52,919.72 L315.81,919.98 L317.09,920.24 L318.38,920.49 L319.67,920.74 L320.95,920.98 L322.24,921.22 L323.53,921.45 L324.83,921.67 L326.12,921.89 L327.41,922.1 L328.7,922.31 L330,922.52 L331.29,922.72 L332.59,922.91 L333.89,923.1 L335.18,923.29 L336.48,923.48 L337.78,923.65 L339.08,923.83 L340.38,924 L341.68,924.17 L342.98,924.33 L344.28,924.49 L345.58,924.65 L346.88,924.81 L348.19,924.96 L349.49,925.11 L350.79,925.25 L352.09,925.39 L353.4,925.53 L354.7,925.67 L356,925.8 L357.31,925.94 L358.61,926.06 L359.92,926.19 L361.22,926.32 L362.53,926.44 L363.83,926.56 L365.14,926.67 L366.44,926.79 L367.75,926.9 L369.06,927.01 L370.36,927.12 L371.67,927.23 L372.97,927.33 L374.28,927.44 L375.59,927.54 L376.89,927.64 L378.2,927.74 L379.51,927.83 L380.82,927.93 L382.12,928.02 L383.43,928.11 L384.74,928.21 L386.05,928.29 L387.35,928.38 L388.66,928.47 L389.97,928.55 L391.28,928.64 L392.59,928.72 L393.89,928.8 L395.2,928.88 L396.51,928.96 L397.82,929.03 L399.13,929.11 L400.44,929.19 L401.75,929.26 L403.05,929.33 L404.36,929.4 L405.67,929.47 L406.98,929.54 L408.29,929.61 L409.6,929.68 L410.91,929.75 L412.22,929.81 L413.53,929.88 L414.83,929.94 L416.14,930.01 L417.45,930.07 L418.76,930.13 L420.07,930.19 L421.38,930.25 L422.69,930.31 L424,930.37 L425.31,930.43 L426.62,930.49 L427.93,930.54 L429.24,930.6 L430.55,930.65 L431.86,930.71 L433.17,930.76 L434.48,930.82 L435.79,930.87 L437.1,930.92 L438.41,930.97 L439.72,931.02 L441.03,931.07 L442.33,931.12 L443.64,931.17 L444.95,931.22 L446.26,931.27 L447.57,931.32 L448.88,931.37 L450.19,931.41 L451.5,931.46 L452.81,931.5 L454.12,931.55 L455.43,931.59 L456.74,931.64 L458.05,931.68 L459.36,931.73 L460.67,931.77 L461.98,931.81 L463.29,931.86 L464.6,931.9 L465.91,931.94 L467.22,931.98 L468.53,932.02 L469.84,932.06 L471.15,932.1 L472.46,932.14 L473.77,932.18 L475.08,932.22 L476.39,932.26 L477.7,932.3 L479.02,932.34 L480.33,932.38 L481.64,932.41 L482.95,932.45 L484.26,932.49 L485.57,932.52 L486.88,932.56 L488.19,932.6 L489.5,932.63 L490.81,932.67 L492.12,932.7 L493.43,932.74 L494.74,932.77 L496.05,932.81 L497.36,932.84 L498.67,932.88 L499.98,932.91 L501.29,932.94 L502.6,932.98 L503.91,933.01 L505.22,933.04 L506.53,933.08 L507.84,933.11 L509.15,933.14 L510.46,933.17 L511.77,933.21 L513.08,933.24 L514.39,933.27 L515.7,933.3 L517.01,933.33 L518.32,933.36 L519.63,933.39 L520.94,933.42 L522.25,933.46 L523.57,933.49 L524.88,933.52 L526.19,933.55 L527.5,933.58 L528.81,933.6 L530.12,933.63 L531.43,933.66 L532.74,933.69 L534.05,933.72 L535.36,933.75 L536.67,933.78 L537.98,933.81 L539.29,933.84 L540.6,933.86 L541.91,933.89 L543.22,933.92 L544.53,933.95 L545.84,933.98 L547.15,934 L548.46,934.03 L549.77,934.06 L551.08,934.09 L552.39,934.11 L553.7,934.14 L555.02,934.17 L556.33,934.19 L557.64,934.22 L558.95,934.25 L560.26,934.27 L561.57,934.3 L562.88,934.33 L564.19,934.35 L565.5,934.38 L566.81,934.4 L568.12,934.43 L569.43,934.46 L570.74,934.48 L572.05,934.51 L573.36,934.53 L574.67,934.56 L575.98,934.58 L577.29,934.61 L578.6,934.63 L579.91,934.66 L581.22,934.68 L582.54,934.71 L583.85,934.73 L585.16,934.76 L586.47,934.78 L587.78,934.8 L589.09,934.83 L590.4,934.85 L591.71,934.88 L593.02,934.9 L594.33,934.93 L595.64,934.95 L596.95,934.97 L598.26,935 L599.57,935.02 L600.88,935.04 L602.19,935.07 L603.5,935.09 L604.81,935.12 L606.12,935.14 L607.44,935.16 L608.75,935.19 L610.06,935.21 L611.37,935.23 L612.68,935.25 L613.99,935.28 L615.3,935.3 L616.61,935.32 L617.92,935.35 L619.23,935.37 L620.54,935.39 L621.85,935.41 L623.16,935.44 L624.47,935.46 L625.78,935.48 L627.09,935.5 L628.4,935.53 L629.71,935.55 L631.02,935.57 L632.34,935.59 L633.65,935.62 L634.96,935.64 L636.27,935.66 L637.58,935.68 L638.89,935.7 L640.2,935.73 L641.51,935.75 L642.82,935.77 L644.13,935.79 L645.44,935.81 L646.75,935.84 L648.06,935.86 L649.37,935.88 L650.68,935.9 L651.99,935.92 L653.3,935.94 L654.61,935.96 L655.93,935.99 L657.24,936.01 L658.55,936.03 L659.86,936.05 L661.17,936.07 L662.48,936.09 L663.79,936.11 L665.1,936.14 L666.41,936.16 L667.72,936.18 L669.03,936.2 L670.34,936.22 L671.65,936.24 L672.96,936.26 L674.27,936.28 L675.58,936.3 L676.89,936.32 L678.2,936.34 L679.52,936.37 L680.83,936.39 L682.14,936.41 L683.45,936.43 L684.76,936.45 L686.07,936.47 L687.38,936.49 L688.69,936.51 L690,936.53" fill="none" stroke="#44aa99" stroke-width="4.3" clip-path="url(#clipD)"/>
<path d="M203,694.11 L203.16,695.37 L203.31,696.63 L203.47,697.89 L203.62,699.15 L203.78,700.41 L203.94,701.67 L204.1,702.93 L204.26,704.19 L204.43,705.45 L204.59,706.71 L204.76,707.97 L204.92,709.22 L205.09,710.48 L205.26,711.74 L205.43,713 L205.61,714.26 L205.78,715.51 L205.96,716.77 L206.13,718.03 L206.31,719.29 L206.49,720.54 L206.67,721.8 L206.86,723.06 L207.04,724.31 L207.23,725.57 L207.41,726.82 L207.6,728.08 L207.79,729.34 L207.99,730.59 L208.18,731.85 L208.38,733.1 L208.57,734.35 L208.77,735.61 L208.97,736.86 L209.18,738.12 L209.38,739.37 L209.59,740.62 L209.8,741.87 L210.01,743.13 L210.22,744.38 L210.43,745.63 L210.65,746.88 L210.87,748.13 L211.09,749.38 L211.31,750.63 L211.54,751.88 L211.76,753.13 L211.99,754.38 L212.22,755.63 L212.46,756.88 L212.69,758.12 L212.93,759.37 L213.17,760.62 L213.41,761.86 L213.66,763.11 L213.91,764.36 L214.16,765.6 L214.41,766.84 L214.67,768.09 L214.93,769.33 L215.19,770.57 L215.45,771.82 L215.72,773.06 L215.99,774.3 L216.26,775.54 L216.53,776.78 L216.81,778.02 L217.1,779.25 L217.38,780.49 L217.67,781.73 L217.96,782.96 L218.25,784.2 L218.55,785.43 L218.85,786.67 L219.16,787.9 L219.47,789.13 L219.78,790.36 L220.09,791.59 L220.41,792.82 L220.74,794.05 L221.06,795.28 L221.39,796.5 L221.73,797.73 L222.07,798.95 L222.41,800.17 L222.76,801.39 L223.11,802.61 L223.47,803.83 L223.83,805.05 L224.19,806.27 L224.56,807.48 L224.94,808.69 L225.32,809.91 L225.7,811.12 L226.09,812.33 L226.48,813.53 L226.88,814.74 L227.29,815.94 L227.7,817.14 L228.12,818.34 L228.54,819.54 L228.97,820.73 L229.4,821.93 L229.84,823.12 L230.29,824.31 L230.74,825.49 L231.2,826.68 L231.66,827.86 L232.13,829.04 L232.61,830.22 L233.09,831.39 L233.59,832.56 L234.09,833.73 L234.59,834.89 L235.11,836.05 L235.63,837.21 L236.16,838.37 L236.69,839.52 L237.24,840.66 L237.79,841.81 L238.35,842.95 L238.92,844.08 L239.5,845.21 L240.08,846.34 L240.68,847.46 L241.28,848.58 L241.89,849.69 L242.51,850.8 L243.15,851.9 L243.79,852.99 L244.44,854.09 L245.1,855.17 L245.77,856.25 L246.45,857.32 L247.14,858.39 L247.83,859.45 L248.54,860.5 L249.27,861.55 L250,862.58 L250.74,863.61 L251.49,864.64 L252.25,865.65 L253.02,866.66 L253.81,867.66 L254.6,868.65 L255.41,869.63 L256.23,870.6 L257.05,871.57 L257.89,872.52 L258.74,873.46 L259.6,874.4 L260.47,875.32 L261.35,876.24 L262.24,877.14 L263.15,878.03 L264.06,878.92 L264.98,879.79 L265.92,880.65 L266.86,881.5 L267.82,882.33 L268.78,883.16 L269.75,883.97 L270.74,884.78 L271.73,885.57 L272.73,886.35 L273.75,887.11 L274.77,887.87 L275.8,888.61 L276.83,889.34 L277.88,890.06 L278.94,890.77 L280,891.46 L281.07,892.15 L282.15,892.82 L283.23,893.48 L284.32,894.13 L285.42,894.76 L286.53,895.39 L287.64,896 L288.76,896.6 L289.88,897.19 L291.01,897.77 L292.15,898.34 L293.29,898.9 L294.44,899.44 L295.59,899.98 L296.74,900.5 L297.9,901.02 L299.07,901.52 L300.24,902.02 L301.41,902.5 L302.59,902.98 L303.77,903.44 L304.95,903.9 L306.14,904.35 L307.33,904.79 L308.53,905.22 L309.73,905.64 L310.93,906.05 L312.13,906.45 L313.34,906.85 L314.55,907.24 L315.76,907.62 L316.97,907.99 L318.19,908.36 L319.41,908.72 L320.63,909.07 L321.85,909.41 L323.07,909.75 L324.3,910.08 L325.53,910.4 L326.75,910.72 L327.99,911.03 L329.22,911.34 L330.45,911.64 L331.69,911.93 L332.92,912.22 L334.16,912.5 L335.4,912.78 L336.64,913.05 L337.88,913.32 L339.12,913.58 L340.37,913.84 L341.61,914.09 L342.86,914.34 L344.1,914.58 L345.35,914.82 L346.6,915.05 L347.85,915.28 L349.1,915.51 L350.35,915.73 L351.6,915.95 L352.85,916.16 L354.1,916.37 L355.36,916.58 L356.61,916.78 L357.86,916.98 L359.12,917.17 L360.37,917.36 L361.63,917.55 L362.89,917.74 L364.14,917.92 L365.4,918.1 L366.66,918.27 L367.91,918.45 L369.17,918.62 L370.43,918.79 L371.69,918.95 L372.95,919.11 L374.21,919.27 L375.47,919.43 L376.73,919.58 L377.99,919.73 L379.25,919.88 L380.51,920.03 L381.77,920.17 L383.04,920.32 L384.3,920.46 L385.56,920.59 L386.82,920.73 L388.09,920.86 L389.35,920.99 L390.61,921.12 L391.88,921.25 L393.14,921.38 L394.4,921.5 L395.67,921.62 L396.93,921.74 L398.19,921.86 L399.46,921.98 L400.72,922.09 L401.99,922.21 L403.25,922.32 L404.52,922.43 L405.78,922.54 L407.05,922.64 L408.31,922.75 L409.58,922.85 L410.84,922.95 L412.11,923.06 L413.38,923.16 L414.64,923.25 L415.91,923.35 L417.17,923.45 L418.44,923.54 L419.71,923.63 L420.97,923.73 L422.24,923.82 L423.51,923.91 L424.77,924 L426.04,924.08 L427.31,924.17 L428.57,924.25 L429.84,924.34 L431.11,924.42 L432.37,924.5 L433.64,924.58 L434.91,924.66 L436.18,924.74 L437.44,924.82 L438.71,924.9 L439.98,924.97 L441.25,925.05 L442.51,925.12 L443.78,925.2 L445.05,925.27 L446.32,925.34 L447.58,925.41 L448.85,925.48 L450.12,925.55 L451.39,925.62 L452.66,925.69 L453.92,925.75 L455.19,925.82 L456.46,925.88 L457.73,925.95 L459,926.01 L460.26,926.08 L461.53,926.14 L462.8,926.2 L464.07,926.26 L465.34,926.32 L466.61,926.38 L467.87,926.44 L469.14,926.5 L470.41,926.56 L471.68,926.61 L472.95,926.67 L474.22,926.73 L475.48,926.78 L476.75,926.84 L478.02,926.89 L479.29,926.95 L480.56,927 L481.83,927.05 L483.1,927.11 L484.36,927.16 L485.63,927.21 L486.9,927.26 L488.17,927.31 L489.44,927.36 L490.71,927.41 L491.98,927.46 L493.25,927.51 L494.51,927.55 L495.78,927.6 L497.05,927.65 L498.32,927.7 L499.59,927.74 L500.86,927.79 L502.13,927.83 L503.4,927.88 L504.67,927.92 L505.94,927.97 L507.2,928.01 L508.47,928.05 L509.74,928.1 L511.01,928.14 L512.28,928.18 L513.55,928.22 L514.82,928.27 L516.09,928.31 L517.36,928.35 L518.63,928.39 L519.89,928.43 L521.16,928.47 L522.43,928.51 L523.7,928.55 L524.97,928.59 L526.24,928.63 L527.51,928.66 L528.78,928.7 L530.05,928.74 L531.32,928.78 L532.59,928.81 L533.86,928.85 L535.12,928.89 L536.39,928.92 L537.66,928.96 L538.93,929 L540.2,929.03 L541.47,929.07 L542.74,929.1 L544.01,929.14 L545.28,929.17 L546.55,929.21 L547.82,929.24 L549.09,929.27 L550.36,929.31 L551.63,929.34 L552.89,929.37 L554.16,929.41 L555.43,929.44 L556.7,929.47 L557.97,929.5 L559.24,929.53 L560.51,929.57 L561.78,929.6 L563.05,929.63 L564.32,929.66 L565.59,929.69 L566.86,929.72 L568.13,929.75 L569.4,929.78 L570.67,929.81 L571.93,929.84 L573.2,929.87 L574.47,929.9 L575.74,929.93 L577.01,929.96 L578.28,929.99 L579.55,930.02 L580.82,930.05 L582.09,930.07 L583.36,930.1 L584.63,930.13 L585.9,930.16 L587.17,930.19 L588.44,930.21 L589.71,930.24 L590.98,930.27 L592.25,930.3 L593.51,930.32 L594.78,930.35 L596.05,930.38 L597.32,930.4 L598.59,930.43 L599.86,930.46 L601.13,930.48 L602.4,930.51 L603.67,930.53 L604.94,930.56 L606.21,930.58 L607.48,930.61 L608.75,930.63 L610.02,930.66 L611.29,930.68 L612.56,930.71 L613.83,930.73 L615.1,930.76 L616.37,930.78 L617.64,930.81 L618.9,930.83 L620.17,930.86 L621.44,930.88 L622.71,930.9 L623.98,930.93 L625.25,930.95 L626.52,930.97 L627.79,931 L629.06,931.02 L630.33,931.04 L631.6,931.07 L632.87,931.09 L634.14,931.11 L635.41,931.14 L636.68,931.16 L637.95,931.18 L639.22,931.2 L640.49,931.23 L641.76,931.25 L643.03,931.27 L644.3,931.29 L645.56,931.31 L646.83,931.34 L648.1,931.36 L649.37,931.38 L650.64,931.4 L651.91,931.42 L653.18,931.44 L654.45,931.46 L655.72,931.49 L656.99,931.51 L658.26,931.53 L659.53,931.55 L660.8,931.57 L662.07,931.59 L663.34,931.61 L664.61,931.63 L665.88,931.65 L667.15,931.67 L668.42,931.69 L669.69,931.71 L670.96,931.73 L672.23,931.75 L673.5,931.77 L674.76,931.79 L676.03,931.81 L677.3,931.83 L678.57,931.85 L679.84,931.87 L681.11,931.89 L682.38,931.91 L683.65,931.93 L684.92,931.95 L686.19,931.97 L687.46,931.99 L688.73,932.01 L690,932.03" fill="none" stroke="#b3b3b3" stroke-width="4.3" clip-path="url(#clipD)"/>
<path d="M237.35,694.02 L237.54,695.15 L237.74,696.27 L237.94,697.4 L238.15,698.52 L238.35,699.65 L238.56,700.77 L238.76,701.89 L238.97,703.02 L239.18,704.14 L239.4,705.26 L239.61,706.38 L239.83,707.51 L240.05,708.63 L240.27,709.75 L240.49,710.87 L240.72,711.99 L240.94,713.11 L241.17,714.23 L241.4,715.35 L241.64,716.47 L241.87,717.58 L242.11,718.7 L242.35,719.82 L242.59,720.93 L242.83,722.05 L243.08,723.17 L243.33,724.28 L243.58,725.4 L243.83,726.51 L244.09,727.62 L244.35,728.74 L244.61,729.85 L244.87,730.96 L245.13,732.07 L245.4,733.18 L245.67,734.29 L245.94,735.4 L246.22,736.51 L246.5,737.62 L246.78,738.72 L247.06,739.83 L247.35,740.94 L247.64,742.04 L247.93,743.15 L248.23,744.25 L248.52,745.35 L248.83,746.46 L249.13,747.56 L249.44,748.66 L249.75,749.76 L250.06,750.85 L250.38,751.95 L250.7,753.05 L251.02,754.15 L251.35,755.24 L251.68,756.33 L252.01,757.43 L252.34,758.52 L252.68,759.61 L253.03,760.7 L253.37,761.79 L253.73,762.87 L254.08,763.96 L254.44,765.05 L254.8,766.13 L255.16,767.21 L255.53,768.29 L255.91,769.37 L256.28,770.45 L256.67,771.53 L257.05,772.6 L257.44,773.68 L257.83,774.75 L258.23,775.82 L258.63,776.89 L259.04,777.96 L259.45,779.02 L259.87,780.09 L260.28,781.15 L260.71,782.21 L261.14,783.27 L261.57,784.33 L262.01,785.38 L262.45,786.43 L262.9,787.49 L263.35,788.54 L263.81,789.58 L264.27,790.63 L264.74,791.67 L265.21,792.71 L265.69,793.75 L266.17,794.78 L266.66,795.82 L267.15,796.85 L267.65,797.87 L268.16,798.9 L268.67,799.92 L269.18,800.94 L269.7,801.96 L270.23,802.97 L270.76,803.98 L271.3,804.99 L271.84,805.99 L272.39,807 L272.95,808 L273.51,808.99 L274.07,809.98 L274.65,810.97 L275.23,811.95 L275.81,812.94 L276.4,813.91 L277,814.89 L277.6,815.86 L278.21,816.82 L278.83,817.78 L279.45,818.74 L280.08,819.7 L280.72,820.64 L281.36,821.59 L282.01,822.53 L282.66,823.47 L283.32,824.4 L283.99,825.33 L284.67,826.25 L285.35,827.16 L286.03,828.08 L286.73,828.98 L287.43,829.89 L288.14,830.78 L288.85,831.68 L289.57,832.56 L290.3,833.45 L291.03,834.32 L291.77,835.19 L292.51,836.06 L293.27,836.92 L294.03,837.77 L294.79,838.62 L295.56,839.46 L296.34,840.3 L297.13,841.13 L297.92,841.95 L298.72,842.77 L299.52,843.58 L300.33,844.39 L301.15,845.18 L301.97,845.98 L302.8,846.76 L303.63,847.55 L304.47,848.32 L305.32,849.09 L306.17,849.85 L307.03,850.6 L307.89,851.35 L308.76,852.09 L309.63,852.83 L310.51,853.55 L311.4,854.27 L312.29,854.99 L313.19,855.7 L314.09,856.4 L315,857.09 L315.91,857.78 L316.83,858.46 L317.75,859.14 L318.68,859.8 L319.61,860.47 L320.54,861.12 L321.48,861.77 L322.43,862.41 L323.38,863.04 L324.33,863.67 L325.29,864.29 L326.26,864.91 L327.22,865.52 L328.19,866.12 L329.17,866.71 L330.15,867.3 L331.13,867.88 L332.12,868.46 L333.11,869.03 L334.1,869.59 L335.1,870.15 L336.1,870.7 L337.1,871.24 L338.11,871.78 L339.12,872.31 L340.14,872.84 L341.15,873.36 L342.17,873.88 L343.2,874.38 L344.22,874.89 L345.25,875.38 L346.28,875.88 L347.32,876.36 L348.35,876.84 L349.39,877.32 L350.43,877.78 L351.48,878.25 L352.53,878.71 L353.57,879.16 L354.63,879.61 L355.68,880.05 L356.73,880.48 L357.79,880.92 L358.85,881.34 L359.91,881.77 L360.98,882.18 L362.04,882.59 L363.11,883 L364.18,883.4 L365.25,883.8 L366.32,884.19 L367.4,884.58 L368.47,884.97 L369.55,885.35 L370.63,885.72 L371.71,886.09 L372.79,886.46 L373.88,886.82 L374.96,887.18 L376.05,887.53 L377.13,887.88 L378.22,888.23 L379.31,888.57 L380.4,888.91 L381.5,889.24 L382.59,889.57 L383.69,889.9 L384.78,890.22 L385.88,890.54 L386.98,890.85 L388.08,891.16 L389.18,891.47 L390.28,891.77 L391.38,892.07 L392.48,892.37 L393.59,892.66 L394.69,892.96 L395.8,893.24 L396.9,893.53 L398.01,893.81 L399.12,894.08 L400.23,894.36 L401.34,894.63 L402.45,894.9 L403.56,895.16 L404.67,895.43 L405.78,895.69 L406.9,895.94 L408.01,896.19 L409.13,896.45 L410.24,896.69 L411.36,896.94 L412.47,897.18 L413.59,897.42 L414.71,897.66 L415.83,897.89 L416.94,898.12 L418.06,898.35 L419.18,898.58 L420.3,898.81 L421.42,899.03 L422.54,899.25 L423.67,899.46 L424.79,899.68 L425.91,899.89 L427.03,900.1 L428.16,900.31 L429.28,900.52 L430.4,900.72 L431.53,900.92 L432.65,901.12 L433.78,901.32 L434.91,901.51 L436.03,901.71 L437.16,901.9 L438.28,902.09 L439.41,902.27 L440.54,902.46 L441.67,902.64 L442.79,902.82 L443.92,903 L445.05,903.18 L446.18,903.35 L447.31,903.53 L448.44,903.7 L449.57,903.87 L450.7,904.04 L451.83,904.2 L452.96,904.37 L454.09,904.53 L455.22,904.69 L456.35,904.85 L457.48,905.01 L458.61,905.17 L459.75,905.32 L460.88,905.47 L462.01,905.63 L463.14,905.78 L464.28,905.92 L465.41,906.07 L466.54,906.22 L467.68,906.36 L468.81,906.5 L469.94,906.64 L471.08,906.78 L472.21,906.92 L473.34,907.06 L474.48,907.2 L475.61,907.33 L476.75,907.46 L477.88,907.59 L479.02,907.72 L480.15,907.85 L481.29,907.98 L482.42,908.11 L483.56,908.23 L484.69,908.36 L485.83,908.48 L486.97,908.6 L488.1,908.72 L489.24,908.84 L490.37,908.96 L491.51,909.07 L492.65,909.19 L493.78,909.3 L494.92,909.42 L496.06,909.53 L497.19,909.64 L498.33,909.75 L499.47,909.86 L500.61,909.97 L501.74,910.07 L502.88,910.18 L504.02,910.28 L505.16,910.39 L506.29,910.49 L507.43,910.59 L508.57,910.69 L509.71,910.79 L510.85,910.89 L511.98,910.99 L513.12,911.08 L514.26,911.18 L515.4,911.28 L516.54,911.37 L517.68,911.46 L518.82,911.55 L519.95,911.65 L521.09,911.74 L522.23,911.83 L523.37,911.91 L524.51,912 L525.65,912.09 L526.79,912.17 L527.93,912.26 L529.07,912.34 L530.21,912.43 L531.35,912.51 L532.48,912.59 L533.62,912.67 L534.76,912.75 L535.9,912.83 L537.04,912.91 L538.18,912.99 L539.32,913.07 L540.46,913.14 L541.6,913.22 L542.74,913.29 L543.88,913.37 L545.02,913.44 L546.16,913.51 L547.3,913.59 L548.44,913.66 L549.58,913.73 L550.72,913.8 L551.86,913.87 L553,913.94 L554.14,914 L555.28,914.07 L556.42,914.14 L557.57,914.2 L558.71,914.27 L559.85,914.34 L560.99,914.4 L562.13,914.46 L563.27,914.53 L564.41,914.59 L565.55,914.65 L566.69,914.71 L567.83,914.77 L568.97,914.83 L570.11,914.89 L571.25,914.95 L572.39,915.01 L573.54,915.06 L574.68,915.12 L575.82,915.18 L576.96,915.23 L578.1,915.29 L579.24,915.34 L580.38,915.4 L581.52,915.45 L582.66,915.5 L583.81,915.56 L584.95,915.61 L586.09,915.66 L587.23,915.71 L588.37,915.76 L589.51,915.81 L590.65,915.86 L591.79,915.91 L592.94,915.96 L594.08,916.01 L595.22,916.05 L596.36,916.1 L597.5,916.15 L598.64,916.19 L599.78,916.24 L600.93,916.28 L602.07,916.33 L603.21,916.37 L604.35,916.42 L605.49,916.46 L606.63,916.5 L607.78,916.54 L608.92,916.59 L610.06,916.63 L611.2,916.67 L612.34,916.71 L613.48,916.75 L614.63,916.79 L615.77,916.83 L616.91,916.87 L618.05,916.9 L619.19,916.94 L620.33,916.98 L621.48,917.02 L622.62,917.05 L623.76,917.09 L624.9,917.13 L626.04,917.16 L627.18,917.2 L628.33,917.23 L629.47,917.27 L630.61,917.3 L631.75,917.33 L632.89,917.37 L634.04,917.4 L635.18,917.43 L636.32,917.47 L637.46,917.5 L638.6,917.53 L639.75,917.56 L640.89,917.59 L642.03,917.62 L643.17,917.65 L644.31,917.68 L645.46,917.71 L646.6,917.74 L647.74,917.77 L648.88,917.8 L650.02,917.82 L651.17,917.85 L652.31,917.88 L653.45,917.91 L654.59,917.93 L655.73,917.96 L656.88,917.99 L658.02,918.01 L659.16,918.04 L660.3,918.06 L661.45,918.09 L662.59,918.11 L663.73,918.14 L664.87,918.16 L666.01,918.18 L667.16,918.21 L668.3,918.23 L669.44,918.25 L670.58,918.28 L671.72,918.3 L672.87,918.32 L674.01,918.34 L675.15,918.36 L676.29,918.38 L677.44,918.4 L678.58,918.42 L679.72,918.44 L680.86,918.46 L682,918.48 L683.15,918.5 L684.29,918.52 L685.43,918.54 L686.57,918.56 L687.72,918.58 L688.86,918.6 L690,918.61" fill="none" stroke="#fc8d62" stroke-width="4.3" clip-path="url(#clipD)"/>
<rect x="77.55" y="697.75" width="3.5" height="250.39999999999998" fill="#262626"/>
<rect x="77.55" y="944.65" width="602.95" height="3.5" fill="#262626"/>
<line x1="60.8" y1="946.4" x2="79.3" y2="946.4" stroke="#262626" stroke-width="3.5" />
<g transform="matrix(1,0,0,1.04,0,-38.15)"><text x="49.5" y="953.7" text-anchor="end" font-weight="normal" font-size="21.6" fill="#262626">0</text></g>
<line x1="78.8" y1="946.4" x2="78.8" y2="964.9" stroke="#262626" stroke-width="3.5" />
<g transform="matrix(1,0,0,1.04,0,-39.64)"><text x="78.8" y="991" text-anchor="middle" font-weight="normal" font-size="21.6" fill="#262626">0</text></g>
<line x1="60.8" y1="897.02" x2="79.3" y2="897.02" stroke="#262626" stroke-width="3.5" />
<g transform="matrix(1,0,0,1.04,0,-36.17)"><text x="49.5" y="904.32" text-anchor="end" font-weight="normal" font-size="21.6" fill="#262626"> 0</text>
<path transform="translate(25.47,904.32) scale(0.010547,-0.010547)" d="M813,0 L633,0 L633,1102 Q568,1043 465,985 Q362,927 273,895 L273,1062 Q424,1130 535,1224 Q646,1319 698,1409 L813,1409 Z" fill="#262626" stroke="#262626" stroke-width="0.3" vector-effect="non-scaling-stroke"/>
</g>
<line x1="194.4" y1="946.4" x2="194.4" y2="964.9" stroke="#262626" stroke-width="3.5" />
<g transform="matrix(1,0,0,1.04,0,-39.64)"><text x="194.4" y="991" text-anchor="middle" font-weight="normal" font-size="21.6" fill="#262626"> 0</text>
<path transform="translate(182.38,991.00) scale(0.010547,-0.010547)" d="M813,0 L633,0 L633,1102 Q568,1043 465,985 Q362,927 273,895 L273,1062 Q424,1130 535,1224 Q646,1319 698,1409 L813,1409 Z" fill="#262626" stroke="#262626" stroke-width="0.3" vector-effect="non-scaling-stroke"/>
</g>
<line x1="60.8" y1="847.64" x2="79.3" y2="847.64" stroke="#262626" stroke-width="3.5" />
<g transform="matrix(1,0,0,1.04,0,-34.2)"><text x="49.5" y="854.94" text-anchor="end" font-weight="normal" font-size="21.6" fill="#262626">20</text></g>
<line x1="310" y1="946.4" x2="310" y2="964.9" stroke="#262626" stroke-width="3.5" />
<g transform="matrix(1,0,0,1.04,0,-39.64)"><text x="310" y="991" text-anchor="middle" font-weight="normal" font-size="21.6" fill="#262626">20</text></g>
<line x1="60.8" y1="798.26" x2="79.3" y2="798.26" stroke="#262626" stroke-width="3.5" />
<g transform="matrix(1,0,0,1.04,0,-32.22)"><text x="49.5" y="805.56" text-anchor="end" font-weight="normal" font-size="21.6" fill="#262626">30</text></g>
<line x1="425.6" y1="946.4" x2="425.6" y2="964.9" stroke="#262626" stroke-width="3.5" />
<g transform="matrix(1,0,0,1.04,0,-39.64)"><text x="425.6" y="991" text-anchor="middle" font-weight="normal" font-size="21.6" fill="#262626">30</text></g>
<line x1="60.8" y1="748.88" x2="79.3" y2="748.88" stroke="#262626" stroke-width="3.5" />
<g transform="matrix(1,0,0,1.04,0,-30.25)"><text x="49.5" y="756.18" text-anchor="end" font-weight="normal" font-size="21.6" fill="#262626">40</text></g>
<line x1="541.2" y1="946.4" x2="541.2" y2="964.9" stroke="#262626" stroke-width="3.5" />
<g transform="matrix(1,0,0,1.04,0,-39.64)"><text x="541.2" y="991" text-anchor="middle" font-weight="normal" font-size="21.6" fill="#262626">40</text></g>
<line x1="60.8" y1="699.5" x2="79.3" y2="699.5" stroke="#262626" stroke-width="3.5" />
<g transform="matrix(1,0,0,1.04,0,-28.27)"><text x="49.5" y="706.8" text-anchor="end" font-weight="normal" font-size="21.6" fill="#262626">50</text></g>
<line x1="656.8" y1="946.4" x2="656.8" y2="964.9" stroke="#262626" stroke-width="3.5" />
<g transform="matrix(1,0,0,1.04,0,-39.64)"><text x="656.8" y="991" text-anchor="middle" font-weight="normal" font-size="21.6" fill="#262626">50</text></g>
<text x="380" y="1013.5" text-anchor="middle" font-weight="normal" font-size="21.6" fill="#262626">Effect size difference, %</text>
<text x="0" y="0" transform="translate(16,822) rotate(-90)" text-anchor="middle" font-weight="normal" font-size="21.6" fill="#262626">Plants</text>
<g transform="matrix(1,0,0,1.04,0,-28.32)"><text x="2.2" y="708" text-anchor="start" font-weight="bold" font-size="21.6" fill="#262626">D</text></g>
<rect x="96.25" y="1030.45" width="43.4" height="15.1" fill="#fc8d62" stroke="#000" stroke-width="2.9"/>
<g transform="matrix(1,0,0,1.04,0,-41.79)"><text x="158" y="1044.7" text-anchor="start" font-weight="normal" font-size="21.6" fill="#262626">EHA 05</text>
<path transform="translate(202.39,1044.70) scale(0.010547,-0.010547)" d="M813,0 L633,0 L633,1102 Q568,1043 465,985 Q362,927 273,895 L273,1062 Q424,1130 535,1224 Q646,1319 698,1409 L813,1409 Z" fill="#262626" stroke="#262626" stroke-width="0.3" vector-effect="non-scaling-stroke"/>
</g>
<rect x="280.05" y="1030.45" width="43.5" height="15.1" fill="#b3b3b3" stroke="#000" stroke-width="2.9"/>
<g transform="matrix(1,0,0,1.04,0,-41.79)"><text x="341.2" y="1044.7" text-anchor="start" font-weight="normal" font-size="21.6" fill="#262626">GV3 0 </text>
<path transform="translate(384.40,1044.70) scale(0.010547,-0.010547)" d="M813,0 L633,0 L633,1102 Q568,1043 465,985 Q362,927 273,895 L273,1062 Q424,1130 535,1224 Q646,1319 698,1409 L813,1409 Z" fill="#262626" stroke="#262626" stroke-width="0.3" vector-effect="non-scaling-stroke"/>
<path transform="translate(408.42,1044.70) scale(0.010547,-0.010547)" d="M813,0 L633,0 L633,1102 Q568,1043 465,985 Q362,927 273,895 L273,1062 Q424,1130 535,1224 Q646,1319 698,1409 L813,1409 Z" fill="#262626" stroke="#262626" stroke-width="0.3" vector-effect="non-scaling-stroke"/>
</g>
<rect x="462.25" y="1030.45" width="43.3" height="15.1" fill="#44aa99" stroke="#000" stroke-width="2.9"/>
<text x="524" y="1044.7" text-anchor="start" font-weight="normal" font-size="21.6" fill="#262626">GV3 0  (best)</text>
<path transform="translate(567.20,1044.70) scale(0.010547,-0.010547)" d="M813,0 L633,0 L633,1102 Q568,1043 465,985 Q362,927 273,895 L273,1062 Q424,1130 535,1224 Q646,1319 698,1409 L813,1409 Z" fill="#262626" stroke="#262626" stroke-width="0.3" vector-effect="non-scaling-stroke"/>
<path transform="translate(591.22,1044.70) scale(0.010547,-0.010547)" d="M813,0 L633,0 L633,1102 Q568,1043 465,985 Q362,927 273,895 L273,1062 Q424,1130 535,1224 Q646,1319 698,1409 L813,1409 Z" fill="#262626" stroke="#262626" stroke-width="0.3" vector-effect="non-scaling-stroke"/>
</svg>
</body></html>
